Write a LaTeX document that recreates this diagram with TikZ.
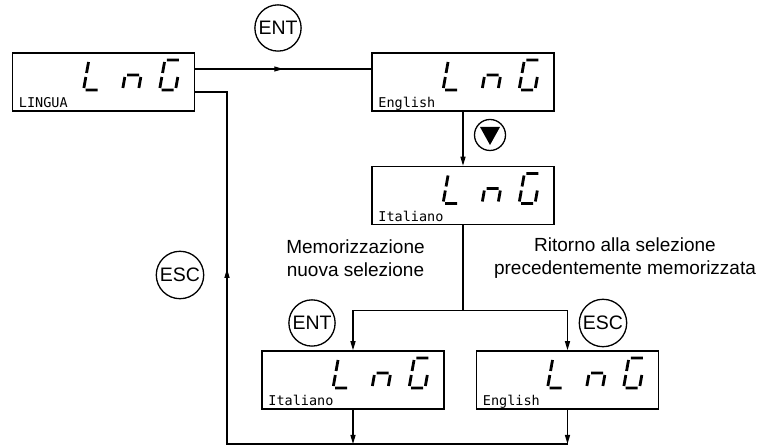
\documentclass[tikz,border=0pt]{standalone}
\usepackage{fontspec}
\setmainfont{Liberation Sans}
\setmonofont{DejaVu Sans Mono}
\usetikzlibrary{arrows.meta,positioning,decorations.markings}

\tikzset{
  panel/.style={draw, line width=1.5pt, minimum width=182pt, minimum height=58pt, inner sep=0pt},
  panellabel/.style={anchor=base west, inner sep=0pt, font=\ttfamily\fontsize{13.5}{15}\selectfont},
  seg/.style={line width=2.8pt},
  key/.style={draw, circle, line width=1.3pt, inner sep=2pt, font=\fontsize{19.5}{23}\selectfont},
  wire/.style={line width=1.3pt},
  tip/.style={-{Triangle[length=9pt,width=5pt]}},
  midarrow/.style={postaction={decorate}, decoration={markings,
      mark=at position #1 with {\arrow{Triangle[length=9pt,width=5pt]}}}},
  note/.style={align=center, inner sep=0pt, font=\fontsize{19}{23}\selectfont},
  % seven-segment "L n G"
  pics/lng/.style={code={
    \begin{scope}[shift={(-20,-8)}, xslant=0.18]
      \draw[seg] (0,28) -- (0,17) (0,13) -- (0,2) (2,0) -- (14,0);
    \end{scope}
    \begin{scope}[shift={(19,-8)}, xslant=0.18]
      \draw[seg] (0,2) -- (0,13) (2,15) -- (14,15) (16,13) -- (16,2);
    \end{scope}
    \begin{scope}[shift={(56,-8)}, xslant=0.18]
      \draw[seg] (2,30) -- (14,30) (0,28) -- (0,17) (0,13) -- (0,2)
                 (2,0) -- (14,0) (16,13) -- (16,2);
    \end{scope}
  }}
}

\begin{document}
\begin{tikzpicture}[x=1pt, y=1pt]
  \useasboundingbox (0,0) rectangle (763,446);

  % displays
  \node[panel] (lingua) at (103.5,364) {};
  \node[panel, right=176pt of lingua] (english) {};
  \node[panel, below=54pt of english] (italiano) {};
  \node[panel] (saved) at (353,66) {};
  \node[panel] (restored) at (567.5,66) {};

  \foreach \b/\t in {lingua/LINGUA, english/English, italiano/Italiano,
                     saved/Italiano, restored/English} {
    \pic at (\b) {lng};
    \node[panellabel] at ([shift={(7pt,4pt)}]\b.south west) {\t};
  }

  % keys
  \node[key] (enttop) at (278,418) {ENT};
  \node[key, minimum size=31pt] (down) at (490,311) {};
  \fill (down.center) ++(-10,8) -- ++(20,0) -- ++(-10,-18) -- cycle;
  \node[key] (escleft) at (180,171) {ESC};
  \node[key] (entlow) at (312,123) {ENT};
  \node[key] (escright) at (603,123) {ESC};

  % notes
  \node[note] (memo) at (355.5,187.5) {Memorizzazione\\nuova selezione};
  \node[note] (back) at (625,187.5) {Ritorno alla selezione\\precedentemente memorizzata};

  % connectors
  \coordinate[below=85pt of italiano.south] (split);
  \coordinate (loopbot) at (227,2);
  \coordinate (looptop) at (227,354);

  \draw[wire, midarrow=0.5] ([yshift=13pt]lingua.east) -- ([yshift=13pt]english.west);
  \draw[wire, tip] (english.south) -- (italiano.north);
  \draw[wire] (italiano.south) -- (split);
  \draw[wire, tip] (split) -| (saved.north);
  \draw[wire, tip] (split) -| (restored.north);
  \draw[wire, tip] (saved.south) -- (saved.south |- loopbot);
  \draw[wire, tip] (restored.south) -- (restored.south |- loopbot);
  \draw[wire, midarrow=0.712] (restored.south |- loopbot) -- (loopbot)
    -- (looptop) -- (looptop -| lingua.east);
\end{tikzpicture}
\end{document}
